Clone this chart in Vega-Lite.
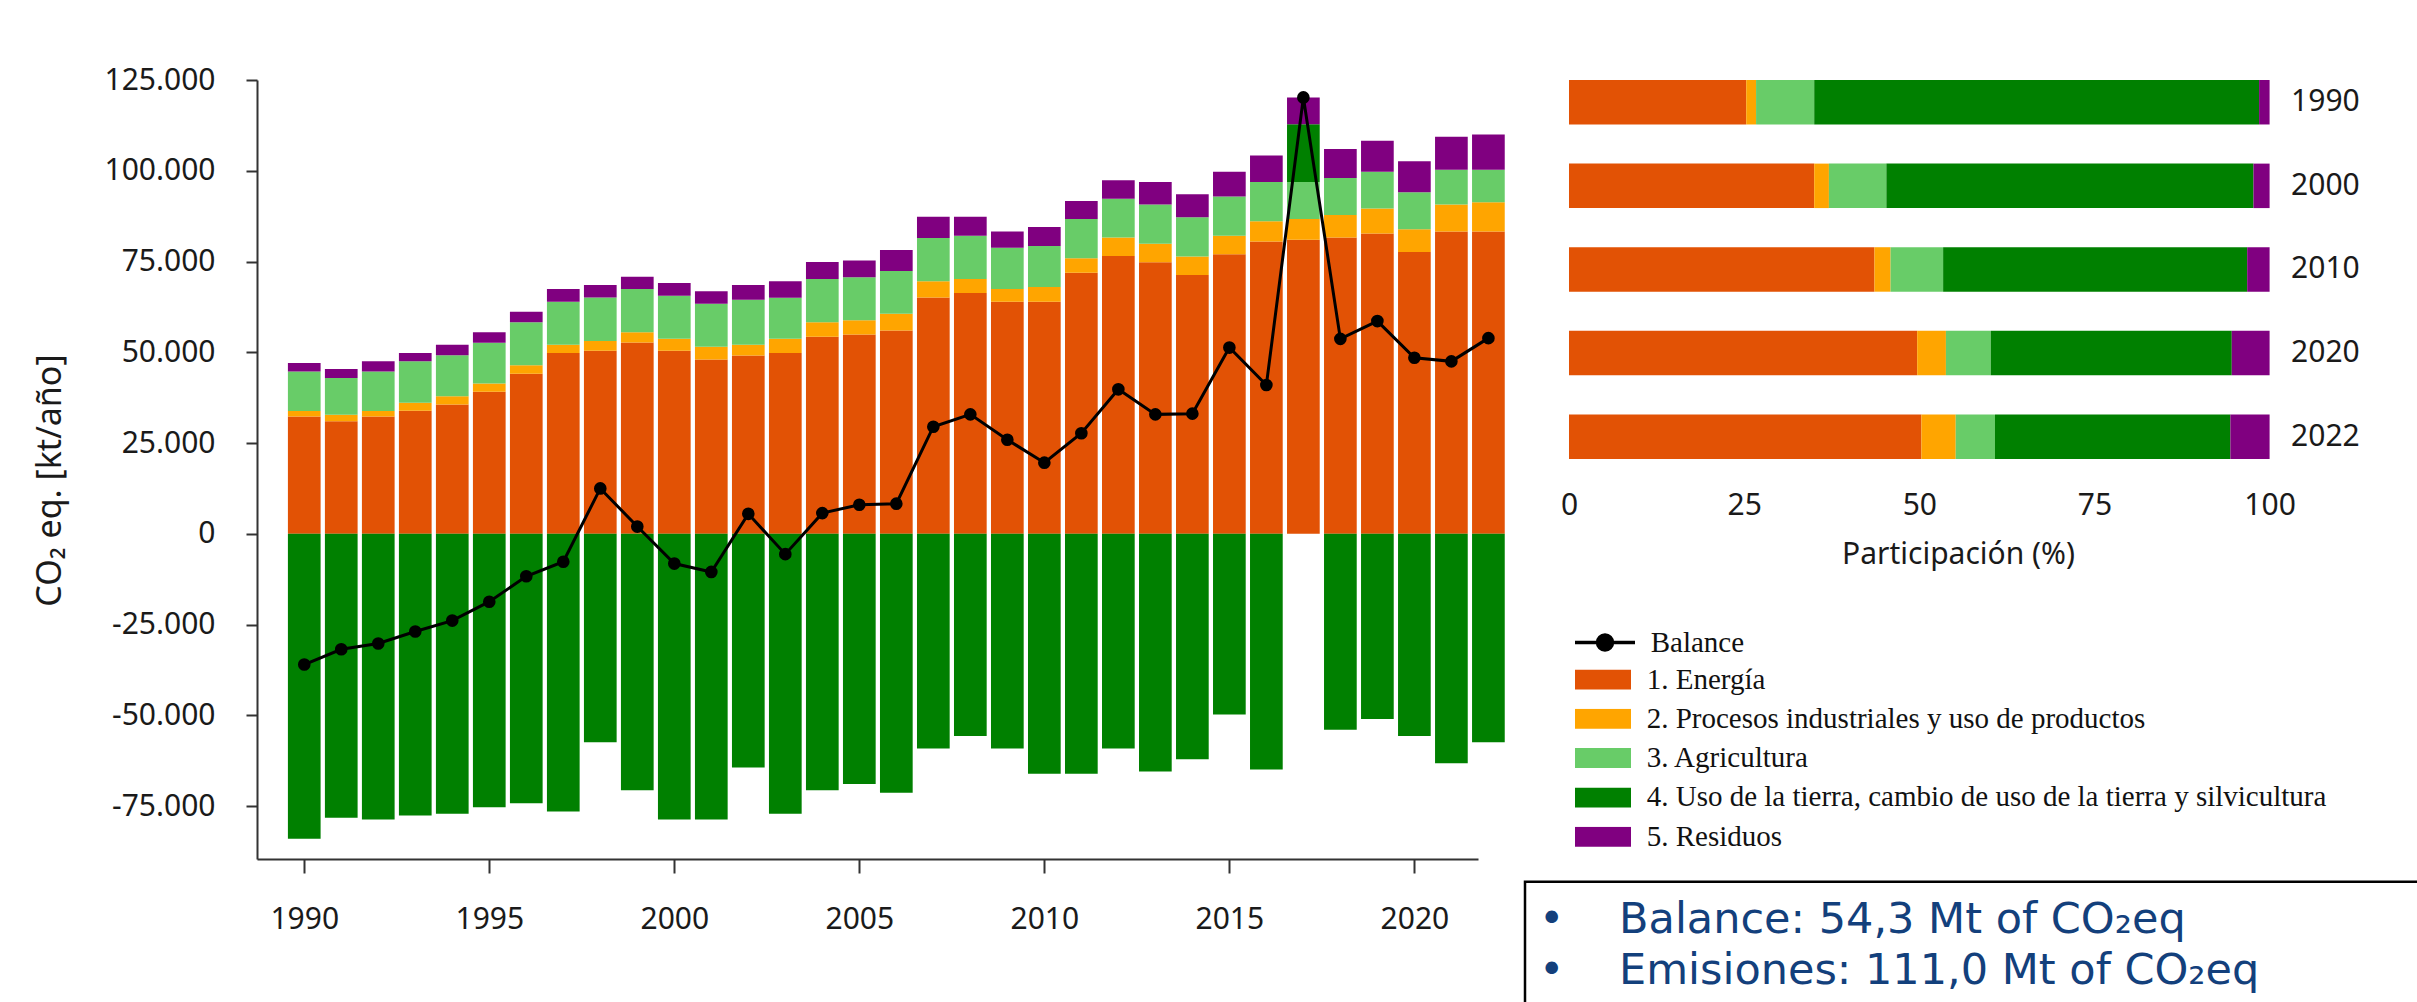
{
  "$schema": "https://vega.github.io/schema/vega-lite/v6.json",
  "autosize": {"type": "none"},
  "padding": {"left": 257, "top": 80, "right": 2160, "bottom": 922},
  "background": "white",
  "bounds": "flush",
  "spacing": 47,
  "datasets": {
    "emisiones": [
      {"anio":1990,"categoria":"1. Energía","valor":32300},{"anio":1990,"categoria":"2. Procesos industriales y uso de productos","valor":1500},{"anio":1990,"categoria":"3. Agricultura","valor":10900},{"anio":1990,"categoria":"4. Uso de la tierra, cambio de uso de la tierra y silvicultura","valor":-84000},{"anio":1990,"categoria":"5. Residuos","valor":2350},
      {"anio":1991,"categoria":"1. Energía","valor":31000},{"anio":1991,"categoria":"2. Procesos industriales y uso de productos","valor":1800},{"anio":1991,"categoria":"3. Agricultura","valor":10100},{"anio":1991,"categoria":"4. Uso de la tierra, cambio de uso de la tierra y silvicultura","valor":-78200},{"anio":1991,"categoria":"5. Residuos","valor":2500},
      {"anio":1992,"categoria":"1. Energía","valor":32300},{"anio":1992,"categoria":"2. Procesos industriales y uso de productos","valor":1500},{"anio":1992,"categoria":"3. Agricultura","valor":10900},{"anio":1992,"categoria":"4. Uso de la tierra, cambio de uso de la tierra y silvicultura","valor":-78700},{"anio":1992,"categoria":"5. Residuos","valor":2800},
      {"anio":1993,"categoria":"1. Energía","valor":33900},{"anio":1993,"categoria":"2. Procesos industriales y uso de productos","valor":2200},{"anio":1993,"categoria":"3. Agricultura","valor":11400},{"anio":1993,"categoria":"4. Uso de la tierra, cambio de uso de la tierra y silvicultura","valor":-77600},{"anio":1993,"categoria":"5. Residuos","valor":2300},
      {"anio":1994,"categoria":"1. Energía","valor":35600},{"anio":1994,"categoria":"2. Procesos industriales y uso de productos","valor":2300},{"anio":1994,"categoria":"3. Agricultura","valor":11300},{"anio":1994,"categoria":"4. Uso de la tierra, cambio de uso de la tierra y silvicultura","valor":-77100},{"anio":1994,"categoria":"5. Residuos","valor":2900},
      {"anio":1995,"categoria":"1. Energía","valor":39100},{"anio":1995,"categoria":"2. Procesos industriales y uso de productos","valor":2300},{"anio":1995,"categoria":"3. Agricultura","valor":11200},{"anio":1995,"categoria":"4. Uso de la tierra, cambio de uso de la tierra y silvicultura","valor":-75300},{"anio":1995,"categoria":"5. Residuos","valor":2900},
      {"anio":1996,"categoria":"1. Energía","valor":44100},{"anio":1996,"categoria":"2. Procesos industriales y uso de productos","valor":2300},{"anio":1996,"categoria":"3. Agricultura","valor":11900},{"anio":1996,"categoria":"4. Uso de la tierra, cambio de uso de la tierra y silvicultura","valor":-74200},{"anio":1996,"categoria":"5. Residuos","valor":2900},
      {"anio":1997,"categoria":"1. Energía","valor":49800},{"anio":1997,"categoria":"2. Procesos industriales y uso de productos","valor":2300},{"anio":1997,"categoria":"3. Agricultura","valor":11800},{"anio":1997,"categoria":"4. Uso de la tierra, cambio de uso de la tierra y silvicultura","valor":-76500},{"anio":1997,"categoria":"5. Residuos","valor":3500},
      {"anio":1998,"categoria":"1. Energía","valor":50400},{"anio":1998,"categoria":"2. Procesos industriales y uso de productos","valor":2700},{"anio":1998,"categoria":"3. Agricultura","valor":12000},{"anio":1998,"categoria":"4. Uso de la tierra, cambio de uso de la tierra y silvicultura","valor":-57400},{"anio":1998,"categoria":"5. Residuos","valor":3400},
      {"anio":1999,"categoria":"1. Energía","valor":52700},{"anio":1999,"categoria":"2. Procesos industriales y uso de productos","valor":2800},{"anio":1999,"categoria":"3. Agricultura","valor":11900},{"anio":1999,"categoria":"4. Uso de la tierra, cambio de uso de la tierra y silvicultura","valor":-70600},{"anio":1999,"categoria":"5. Residuos","valor":3400},
      {"anio":2000,"categoria":"1. Energía","valor":50400},{"anio":2000,"categoria":"2. Procesos industriales y uso de productos","valor":3300},{"anio":2000,"categoria":"3. Agricultura","valor":11900},{"anio":2000,"categoria":"4. Uso de la tierra, cambio de uso de la tierra y silvicultura","valor":-78700},{"anio":2000,"categoria":"5. Residuos","valor":3500},
      {"anio":2001,"categoria":"1. Energía","valor":48000},{"anio":2001,"categoria":"2. Procesos industriales y uso de productos","valor":3500},{"anio":2001,"categoria":"3. Agricultura","valor":11900},{"anio":2001,"categoria":"4. Uso de la tierra, cambio de uso de la tierra y silvicultura","valor":-78700},{"anio":2001,"categoria":"5. Residuos","valor":3400},
      {"anio":2002,"categoria":"1. Energía","valor":49100},{"anio":2002,"categoria":"2. Procesos industriales y uso de productos","valor":3000},{"anio":2002,"categoria":"3. Agricultura","valor":12400},{"anio":2002,"categoria":"4. Uso de la tierra, cambio de uso de la tierra y silvicultura","valor":-64400},{"anio":2002,"categoria":"5. Residuos","valor":4000},
      {"anio":2003,"categoria":"1. Energía","valor":49800},{"anio":2003,"categoria":"2. Procesos industriales y uso de productos","valor":3900},{"anio":2003,"categoria":"3. Agricultura","valor":11300},{"anio":2003,"categoria":"4. Uso de la tierra, cambio de uso de la tierra y silvicultura","valor":-77100},{"anio":2003,"categoria":"5. Residuos","valor":4600},
      {"anio":2004,"categoria":"1. Energía","valor":54300},{"anio":2004,"categoria":"2. Procesos industriales y uso de productos","valor":4000},{"anio":2004,"categoria":"3. Agricultura","valor":11900},{"anio":2004,"categoria":"4. Uso de la tierra, cambio de uso de la tierra y silvicultura","valor":-70600},{"anio":2004,"categoria":"5. Residuos","valor":4700},
      {"anio":2005,"categoria":"1. Energía","valor":54900},{"anio":2005,"categoria":"2. Procesos industriales y uso de productos","valor":3900},{"anio":2005,"categoria":"3. Agricultura","valor":11900},{"anio":2005,"categoria":"4. Uso de la tierra, cambio de uso de la tierra y silvicultura","valor":-68900},{"anio":2005,"categoria":"5. Residuos","valor":4600},
      {"anio":2006,"categoria":"1. Energía","valor":56000},{"anio":2006,"categoria":"2. Procesos industriales y uso de productos","valor":4600},{"anio":2006,"categoria":"3. Agricultura","valor":11800},{"anio":2006,"categoria":"4. Uso de la tierra, cambio de uso de la tierra y silvicultura","valor":-71300},{"anio":2006,"categoria":"5. Residuos","valor":5800},
      {"anio":2007,"categoria":"1. Energía","valor":65100},{"anio":2007,"categoria":"2. Procesos industriales y uso de productos","valor":4500},{"anio":2007,"categoria":"3. Agricultura","valor":11900},{"anio":2007,"categoria":"4. Uso de la tierra, cambio de uso de la tierra y silvicultura","valor":-59100},{"anio":2007,"categoria":"5. Residuos","valor":5800},
      {"anio":2008,"categoria":"1. Energía","valor":66300},{"anio":2008,"categoria":"2. Procesos industriales y uso de productos","valor":3900},{"anio":2008,"categoria":"3. Agricultura","valor":11900},{"anio":2008,"categoria":"4. Uso de la tierra, cambio de uso de la tierra y silvicultura","valor":-55700},{"anio":2008,"categoria":"5. Residuos","valor":5200},
      {"anio":2009,"categoria":"1. Energía","valor":63900},{"anio":2009,"categoria":"2. Procesos industriales y uso de productos","valor":3500},{"anio":2009,"categoria":"3. Agricultura","valor":11400},{"anio":2009,"categoria":"4. Uso de la tierra, cambio de uso de la tierra y silvicultura","valor":-59100},{"anio":2009,"categoria":"5. Residuos","valor":4500},
      {"anio":2010,"categoria":"1. Energía","valor":63900},{"anio":2010,"categoria":"2. Procesos industriales y uso de productos","valor":4100},{"anio":2010,"categoria":"3. Agricultura","valor":11300},{"anio":2010,"categoria":"4. Uso de la tierra, cambio de uso de la tierra y silvicultura","valor":-66100},{"anio":2010,"categoria":"5. Residuos","valor":5200},
      {"anio":2011,"categoria":"1. Energía","valor":71900},{"anio":2011,"categoria":"2. Procesos industriales y uso de productos","valor":4000},{"anio":2011,"categoria":"3. Agricultura","valor":10800},{"anio":2011,"categoria":"4. Uso de la tierra, cambio de uso de la tierra y silvicultura","valor":-66100},{"anio":2011,"categoria":"5. Residuos","valor":5000},
      {"anio":2012,"categoria":"1. Energía","valor":76500},{"anio":2012,"categoria":"2. Procesos industriales y uso de productos","valor":5100},{"anio":2012,"categoria":"3. Agricultura","valor":10700},{"anio":2012,"categoria":"4. Uso de la tierra, cambio de uso de la tierra y silvicultura","valor":-59100},{"anio":2012,"categoria":"5. Residuos","valor":5100},
      {"anio":2013,"categoria":"1. Energía","valor":74800},{"anio":2013,"categoria":"2. Procesos industriales y uso de productos","valor":5100},{"anio":2013,"categoria":"3. Agricultura","valor":10800},{"anio":2013,"categoria":"4. Uso de la tierra, cambio de uso de la tierra y silvicultura","valor":-65500},{"anio":2013,"categoria":"5. Residuos","valor":6200},
      {"anio":2014,"categoria":"1. Energía","valor":71300},{"anio":2014,"categoria":"2. Procesos industriales y uso de productos","valor":5100},{"anio":2014,"categoria":"3. Agricultura","valor":10800},{"anio":2014,"categoria":"4. Uso de la tierra, cambio de uso de la tierra y silvicultura","valor":-62100},{"anio":2014,"categoria":"5. Residuos","valor":6300},
      {"anio":2015,"categoria":"1. Energía","valor":77000},{"anio":2015,"categoria":"2. Procesos industriales y uso de productos","valor":5100},{"anio":2015,"categoria":"3. Agricultura","valor":10800},{"anio":2015,"categoria":"4. Uso de la tierra, cambio de uso de la tierra y silvicultura","valor":-49800},{"anio":2015,"categoria":"5. Residuos","valor":6800},
      {"anio":2016,"categoria":"1. Energía","valor":80500},{"anio":2016,"categoria":"2. Procesos industriales y uso de productos","valor":5600},{"anio":2016,"categoria":"3. Agricultura","valor":10800},{"anio":2016,"categoria":"4. Uso de la tierra, cambio de uso de la tierra y silvicultura","valor":-64900},{"anio":2016,"categoria":"5. Residuos","valor":7300},
      {"anio":2017,"categoria":"1. Energía","valor":81000},{"anio":2017,"categoria":"2. Procesos industriales y uso de productos","valor":5700},{"anio":2017,"categoria":"3. Agricultura","valor":10200},{"anio":2017,"categoria":"4. Uso de la tierra, cambio de uso de la tierra y silvicultura","valor":15900},{"anio":2017,"categoria":"5. Residuos","valor":7400},
      {"anio":2018,"categoria":"1. Energía","valor":81600},{"anio":2018,"categoria":"2. Procesos industriales y uso de productos","valor":6200},{"anio":2018,"categoria":"3. Agricultura","valor":10200},{"anio":2018,"categoria":"4. Uso de la tierra, cambio de uso de la tierra y silvicultura","valor":-54000},{"anio":2018,"categoria":"5. Residuos","valor":8000},
      {"anio":2019,"categoria":"1. Energía","valor":82700},{"anio":2019,"categoria":"2. Procesos industriales y uso de productos","valor":6900},{"anio":2019,"categoria":"3. Agricultura","valor":10100},{"anio":2019,"categoria":"4. Uso de la tierra, cambio de uso de la tierra y silvicultura","valor":-51000},{"anio":2019,"categoria":"5. Residuos","valor":8600},
      {"anio":2020,"categoria":"1. Energía","valor":77600},{"anio":2020,"categoria":"2. Procesos industriales y uso de productos","valor":6300},{"anio":2020,"categoria":"3. Agricultura","valor":10200},{"anio":2020,"categoria":"4. Uso de la tierra, cambio de uso de la tierra y silvicultura","valor":-55700},{"anio":2020,"categoria":"5. Residuos","valor":8500},
      {"anio":2021,"categoria":"1. Energía","valor":83300},{"anio":2021,"categoria":"2. Procesos industriales y uso de productos","valor":7400},{"anio":2021,"categoria":"3. Agricultura","valor":9600},{"anio":2021,"categoria":"4. Uso de la tierra, cambio de uso de la tierra y silvicultura","valor":-63200},{"anio":2021,"categoria":"5. Residuos","valor":9100},
      {"anio":2022,"categoria":"1. Energía","valor":83300},{"anio":2022,"categoria":"2. Procesos industriales y uso de productos","valor":8000},{"anio":2022,"categoria":"3. Agricultura","valor":9000},{"anio":2022,"categoria":"4. Uso de la tierra, cambio de uso de la tierra y silvicultura","valor":-57400},{"anio":2022,"categoria":"5. Residuos","valor":9700}
    ],
    "balance": [
      {"anio":1990,"serie":"Balance","valor":-36000},{"anio":1991,"serie":"Balance","valor":-31800},{"anio":1992,"serie":"Balance","valor":-30200},{"anio":1993,"serie":"Balance","valor":-26900},{"anio":1994,"serie":"Balance","valor":-23900},{"anio":1995,"serie":"Balance","valor":-18700},{"anio":1996,"serie":"Balance","valor":-11700},{"anio":1997,"serie":"Balance","valor":-7700},{"anio":1998,"serie":"Balance","valor":12500},{"anio":1999,"serie":"Balance","valor":2000},{"anio":2000,"serie":"Balance","valor":-8200},{"anio":2001,"serie":"Balance","valor":-10500},{"anio":2002,"serie":"Balance","valor":5500},{"anio":2003,"serie":"Balance","valor":-5600},{"anio":2004,"serie":"Balance","valor":5700},{"anio":2005,"serie":"Balance","valor":8000},{"anio":2006,"serie":"Balance","valor":8300},{"anio":2007,"serie":"Balance","valor":29500},{"anio":2008,"serie":"Balance","valor":32900},{"anio":2009,"serie":"Balance","valor":25900},{"anio":2010,"serie":"Balance","valor":19600},{"anio":2011,"serie":"Balance","valor":27700},{"anio":2012,"serie":"Balance","valor":39800},{"anio":2013,"serie":"Balance","valor":32900},{"anio":2014,"serie":"Balance","valor":33100},{"anio":2015,"serie":"Balance","valor":51300},{"anio":2016,"serie":"Balance","valor":41000},{"anio":2017,"serie":"Balance","valor":120200},{"anio":2018,"serie":"Balance","valor":53700},{"anio":2019,"serie":"Balance","valor":58600},{"anio":2020,"serie":"Balance","valor":48500},{"anio":2021,"serie":"Balance","valor":47500},{"anio":2022,"serie":"Balance","valor":53900}
    ],
    "participacion": [
      {"anio":1990,"categoria":"1. Energía","valor":25.3},{"anio":1990,"categoria":"2. Procesos industriales y uso de productos","valor":1.4},{"anio":1990,"categoria":"3. Agricultura","valor":8.3},{"anio":1990,"categoria":"4. Uso de la tierra, cambio de uso de la tierra y silvicultura","valor":63.5},{"anio":1990,"categoria":"5. Residuos","valor":1.5},
      {"anio":2000,"categoria":"1. Energía","valor":35.0},{"anio":2000,"categoria":"2. Procesos industriales y uso de productos","valor":2.1},{"anio":2000,"categoria":"3. Agricultura","valor":8.2},{"anio":2000,"categoria":"4. Uso de la tierra, cambio de uso de la tierra y silvicultura","valor":52.4},{"anio":2000,"categoria":"5. Residuos","valor":2.3},
      {"anio":2010,"categoria":"1. Energía","valor":43.6},{"anio":2010,"categoria":"2. Procesos industriales y uso de productos","valor":2.3},{"anio":2010,"categoria":"3. Agricultura","valor":7.5},{"anio":2010,"categoria":"4. Uso de la tierra, cambio de uso de la tierra y silvicultura","valor":43.4},{"anio":2010,"categoria":"5. Residuos","valor":3.2},
      {"anio":2020,"categoria":"1. Energía","valor":49.7},{"anio":2020,"categoria":"2. Procesos industriales y uso de productos","valor":4.1},{"anio":2020,"categoria":"3. Agricultura","valor":6.4},{"anio":2020,"categoria":"4. Uso de la tierra, cambio de uso de la tierra y silvicultura","valor":34.4},{"anio":2020,"categoria":"5. Residuos","valor":5.4},
      {"anio":2022,"categoria":"1. Energía","valor":50.3},{"anio":2022,"categoria":"2. Procesos industriales y uso de productos","valor":4.9},{"anio":2022,"categoria":"3. Agricultura","valor":5.6},{"anio":2022,"categoria":"4. Uso de la tierra, cambio de uso de la tierra y silvicultura","valor":33.6},{"anio":2022,"categoria":"5. Residuos","valor":5.6}
    ],
    "recuadro": [
      {"linea":1,"texto":"•\u00a0\u00a0\u00a0\u00a0Balance: 54,3 Mt of CO\u2082eq"},
      {"linea":2,"texto":"•\u00a0\u00a0\u00a0\u00a0Emisiones: 111,0 Mt of CO\u2082eq"}
    ]
  },
  "hconcat": [
    {
      "width": 1221,
      "height": 779,
      "encoding": {
        "x": {
          "field": "anio", "type": "quantitative", "title": null,
          "scale": {"domain": [1988.858, 2021.584], "nice": false, "zero": false},
          "axis": {"values": [1990,1995,2000,2005,2010,2015,2020], "format": "d", "tickSize": 14, "labelPadding": 31, "labelFlush": false, "labelOverlap": false, "grid": false}
        },
        "y": {
          "field": "valor", "type": "quantitative", "title": "CO\u2082 eq. [kt/año]",
          "scale": {"domain": [-89570, 125000], "nice": false, "zero": false},
          "axis": {"values": [-75000,-50000,-25000,0,25000,50000,75000,100000,125000], "format": ",d", "tickSize": 11, "labelPadding": 31, "labelFlush": false, "labelOverlap": false, "grid": false,
                   "titleFontSize": 34, "titleAngle": 270, "titleX": -197, "titleY": 400, "titleAlign": "center", "titleBaseline": "alphabetic"}
        }
      },
      "layer": [
        {
          "data": {"name": "emisiones"},
          "mark": {"type": "bar", "width": 32.7},
          "encoding": {
            "color": {
              "field": "categoria", "type": "nominal",
              "scale": {"domain": ["1. Energía","2. Procesos industriales y uso de productos","3. Agricultura","4. Uso de la tierra, cambio de uso de la tierra y silvicultura","5. Residuos"],
                        "range": ["#e25205","#ffa500","#68cc68","#008000","#800080"]},
              "legend": {"orient": "none", "legendX": 1318, "legendY": 589.5, "title": null, "padding": 0,
                         "symbolType": "M-1,-0.357H1V0.357H-1Z", "symbolSize": 3136, "symbolStrokeWidth": 0, "symbolOpacity": 1,
                         "clipHeight": 20, "rowPadding": 10.3, "labelOffset": 15.7,
                         "labelFont": "Liberation Serif", "labelFontSize": 29, "labelColor": "#111111", "labelLimit": 1000}
            },
            "order": {"field": "categoria", "type": "nominal", "sort": "ascending"}
          }
        },
        {
          "data": {"name": "balance"},
          "mark": {"type": "line", "strokeWidth": 3},
          "encoding": {
            "stroke": {
              "field": "serie", "type": "nominal",
              "scale": {"range": ["#000000"]},
              "legend": {"orient": "none", "legendX": 1316, "legendY": 552.5, "title": null, "padding": 0,
                         "symbolType": "M-1,0H1M-0.25,0A0.25,0.25,0,1,0,0.25,0A0.25,0.25,0,1,0,-0.25,0Z", "symbolSize": 3600,
                         "symbolStrokeWidth": 3.5, "symbolFillColor": "#000000", "symbolStrokeColor": "#000000",
                         "clipHeight": 20, "labelOffset": 13.7,
                         "labelFont": "Liberation Serif", "labelFontSize": 29, "labelColor": "#111111",
                         "encode": {"symbols": {"update": {"fill": {"value": "#000000"}, "stroke": {"value": "#000000"}, "strokeWidth": {"value": 3.5}, "opacity": {"value": 1}}}}}
            }
          }
        },
        {
          "data": {"name": "balance"},
          "mark": {"type": "point", "filled": true, "size": 160, "color": "#000000", "opacity": 1}
        }
      ]
    },
    {
      "bounds": "flush",
      "spacing": 422.8,
      "vconcat": [
        {
          "width": 744.6,
          "height": 378.9,
          "data": {"name": "participacion"},
          "mark": {"type": "bar"},
          "encoding": {
            "y": {"field": "anio", "type": "ordinal", "title": null,
                  "scale": {"paddingInner": 0.468, "paddingOuter": 0},
                  "axis": {"orient": "right", "ticks": false, "domain": false, "labelPadding": 21, "labelAngle": 0}},
            "x": {"field": "valor", "type": "quantitative", "title": "Participación (%)",
                  "scale": {"domain": [-6.28, 100], "nice": false, "zero": false},
                  "axis": {"values": [0,25,50,75,100], "ticks": false, "domain": false, "grid": false, "labelPadding": 32, "labelFlush": false,
                           "titleFontSize": 30, "titleX": 433, "titleY": 104.6, "titleAlign": "center", "titleBaseline": "alphabetic"}},
            "color": {
              "field": "categoria", "type": "nominal",
              "scale": {"domain": ["1. Energía","2. Procesos industriales y uso de productos","3. Agricultura","4. Uso de la tierra, cambio de uso de la tierra y silvicultura","5. Residuos"],
                        "range": ["#e25205","#ffa500","#68cc68","#008000","#800080"]},
              "legend": {"orient": "none", "legendX": 1318, "legendY": 589.5, "title": null, "padding": 0,
                         "symbolType": "M-1,-0.357H1V0.357H-1Z", "symbolSize": 3136, "symbolStrokeWidth": 0, "symbolOpacity": 1,
                         "clipHeight": 20, "rowPadding": 10.3, "labelOffset": 15.7,
                         "labelFont": "Liberation Serif", "labelFontSize": 29, "labelColor": "#111111", "labelLimit": 1000}
            },
            "order": {"field": "categoria", "type": "nominal", "sort": "ascending"}
          }
        },
        {
          "width": 900,
          "height": 153.2,
          "view": {"stroke": "#000000", "strokeWidth": 2.5, "fill": "white"},
          "data": {"name": "recuadro"},
          "mark": {"type": "text", "align": "left", "baseline": "alphabetic", "font": "DejaVu Sans", "fontSize": 43, "color": "#13407c"},
          "encoding": {
            "y": {"field": "linea", "type": "ordinal", "scale": {"type": "point", "padding": 1.032}, "axis": null},
            "x": {"datum": 0, "type": "quantitative", "scale": {"domain": [-14, 886], "nice": false, "zero": false}, "axis": null},
            "text": {"field": "texto", "type": "nominal"}
          }
        }
      ]
    }
  ],
  "config": {
    "view": {"stroke": null},
    "locale": {"number": {"decimal": ",", "thousands": ".", "grouping": [3], "currency": ["", " €"], "minus": "-"}},
    "axis": {"labelFont": "Noto Sans", "labelFontSize": 30, "labelColor": "#1a1a1a", "titleFont": "Noto Sans", "titleColor": "#1a1a1a", "titleFontWeight": "normal",
             "domainColor": "#333333", "domainWidth": 2, "tickColor": "#333333", "tickWidth": 2, "grid": false}
  }
}
